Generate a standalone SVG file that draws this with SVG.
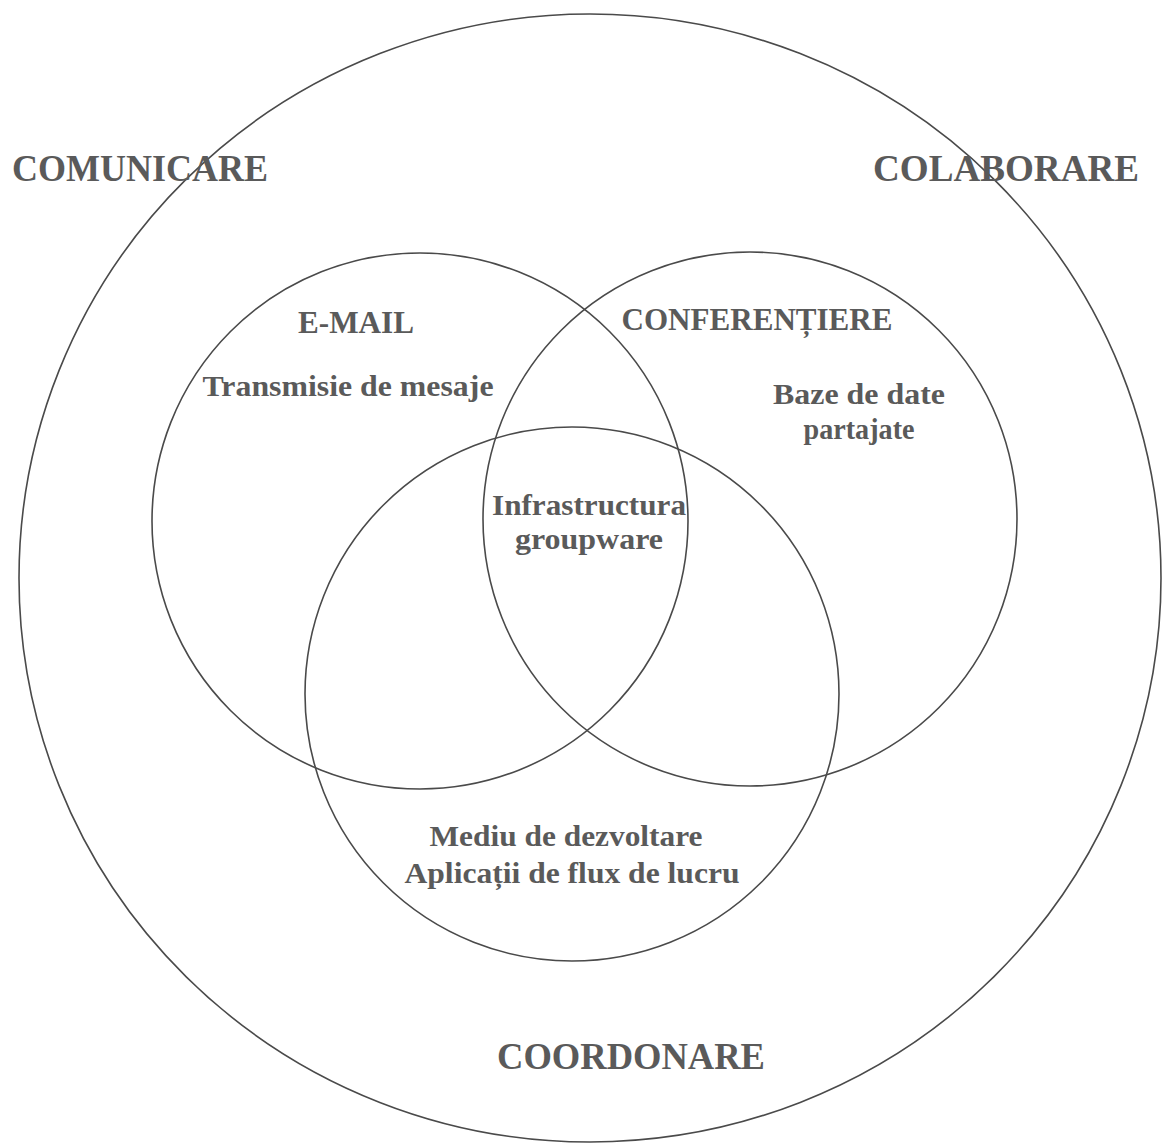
<svg xmlns="http://www.w3.org/2000/svg" width="1163" height="1144" viewBox="0 0 1163 1144">
<style>
.c{fill:none;stroke:#4a4a4a;stroke-width:1.6}
text{font-family:"Liberation Serif","Times New Roman",serif;font-weight:bold;fill:#5a5a5a;text-anchor:middle}
.big{font-size:38px}
.mid{font-size:31px}
.sm{font-size:29px}
</style>
<rect width="1163" height="1144" fill="#ffffff"/>
<g id="connectors"></g>
<g id="outer">
<ellipse class="c" cx="590" cy="578" rx="571" ry="564"/>
<text class="big" x="140" y="181" textLength="256" lengthAdjust="spacingAndGlyphs">COMUNICARE</text>
<text class="big" x="1006" y="181" textLength="266" lengthAdjust="spacingAndGlyphs">COLABORARE</text>
<text class="big" x="631" y="1069" textLength="268" lengthAdjust="spacingAndGlyphs">COORDONARE</text>
</g>
<g id="email">
<circle class="c" cx="420" cy="521" r="268"/>
<text class="mid" x="356" y="333" textLength="116" lengthAdjust="spacingAndGlyphs">E-MAIL</text>
<text class="sm" x="348" y="396" textLength="291" lengthAdjust="spacingAndGlyphs">Transmisie de mesaje</text>
</g>
<g id="conferentiere">
<circle class="c" cx="750" cy="519" r="267"/>
<text class="mid" x="757" y="330" textLength="271" lengthAdjust="spacingAndGlyphs">CONFERENȚIERE</text>
<text class="sm" x="859" y="404" textLength="172" lengthAdjust="spacingAndGlyphs">Baze de date</text>
<text class="sm" x="859" y="439" textLength="111" lengthAdjust="spacingAndGlyphs">partajate</text>
</g>
<g id="coordonare">
<circle class="c" cx="572" cy="694" r="267"/>
<text class="sm" x="566" y="846" textLength="273" lengthAdjust="spacingAndGlyphs">Mediu de dezvoltare</text>
<text class="sm" x="572" y="883" textLength="335" lengthAdjust="spacingAndGlyphs">Aplicații de flux de lucru</text>
</g>
<g id="center">
<text class="sm" x="589" y="515" textLength="194" lengthAdjust="spacingAndGlyphs">Infrastructura</text>
<text class="sm" x="589" y="549" textLength="148" lengthAdjust="spacingAndGlyphs">groupware</text>
</g>
</svg>
